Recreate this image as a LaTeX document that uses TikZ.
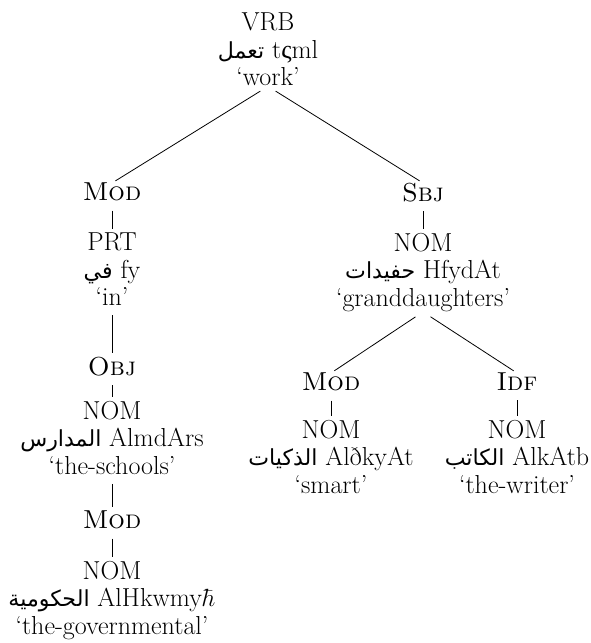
\documentclass[tikz,border=0pt]{standalone}
\usepackage{fontspec}
\TeXXeTstate=1
\newfontfamily\arabicfont[Script=Arabic,Scale=0.85]{DejaVu Sans}
\newfontfamily\greekfont{Liberation Serif}
\newcommand{\arab}[1]{{\arabicfont\beginR #1\endR}}
\usetikzlibrary{arrows}

\begin{document}
\begin{tikzpicture}[x=1pt,y=-1pt,
        word/.style={align=center, anchor=north, inner sep=0pt, font=\fontsize{26}{27.5}\selectfont},
        link/.style={-, line width=0.8pt, shorten <=9pt, shorten >=4pt}]
        \useasboundingbox (0,0) rectangle (591,643);
        \node[word](VRB)  at (268,13)  {VRB\\ \arab{تعمل} t{\greekfont ς}ml\\ ‘work’};
        \node[word](MOD1) at (112,183) {\textsc{Mod}};
        \node[word](SBJ)  at (423,183) {\textsc{Sbj}};
        \node[word](PRT)  at (112,233) {PRT\\ \arab{في} fy\\ ‘in’};
        \node[word](NOM2) at (423,233) {NOM\\ \arab{حفيدات} HfydAt\\ ‘granddaughters’};
        \node[word](OBJ)  at (112,357) {\textsc{Obj}};
        \node[word](MOD2) at (331,373) {\textsc{Mod}};
        \node[word](IDF)  at (517,373) {\textsc{Idf}};
        \node[word](NOM1) at (112,401) {NOM\\ \arab{المدارس} AlmdArs\\ ‘the-schools’};
        \node[word](NOM3) at (331,420) {NOM\\ \arab{الذكيات} AlðkyAt\\ ‘smart’};
        \node[word](NOM4) at (517,420) {NOM\\ \arab{الكاتب} AlkAtb\\ ‘the-writer’};
        \node[word](MOD3) at (112,511) {\textsc{Mod}};
        \node[word](NOM5) at (112,561) {NOM\\ \arab{الحكومية} AlHkwmy$\hbar$\\ ‘the-governmental’};
        \path
            (VRB.south)
                edge [link] (MOD1.north)
                edge [link] (SBJ.north)
            (MOD1.south) edge [link] (PRT.north)
            (PRT.south)  edge [link] (OBJ.north)
            (OBJ.south)  edge [link] (NOM1.north)
            (NOM1.south) edge [link] (MOD3.north)
            (MOD3.south) edge [link] (NOM5.north)
            (SBJ.south)  edge [link] (NOM2.north)
            (NOM2.south)
                edge [link] (MOD2.north)
                edge [link] (IDF.north)
            (MOD2.south) edge [link] (NOM3.north)
            (IDF.south)  edge [link] (NOM4.north)
            ;
    \end{tikzpicture}
\end{document}
